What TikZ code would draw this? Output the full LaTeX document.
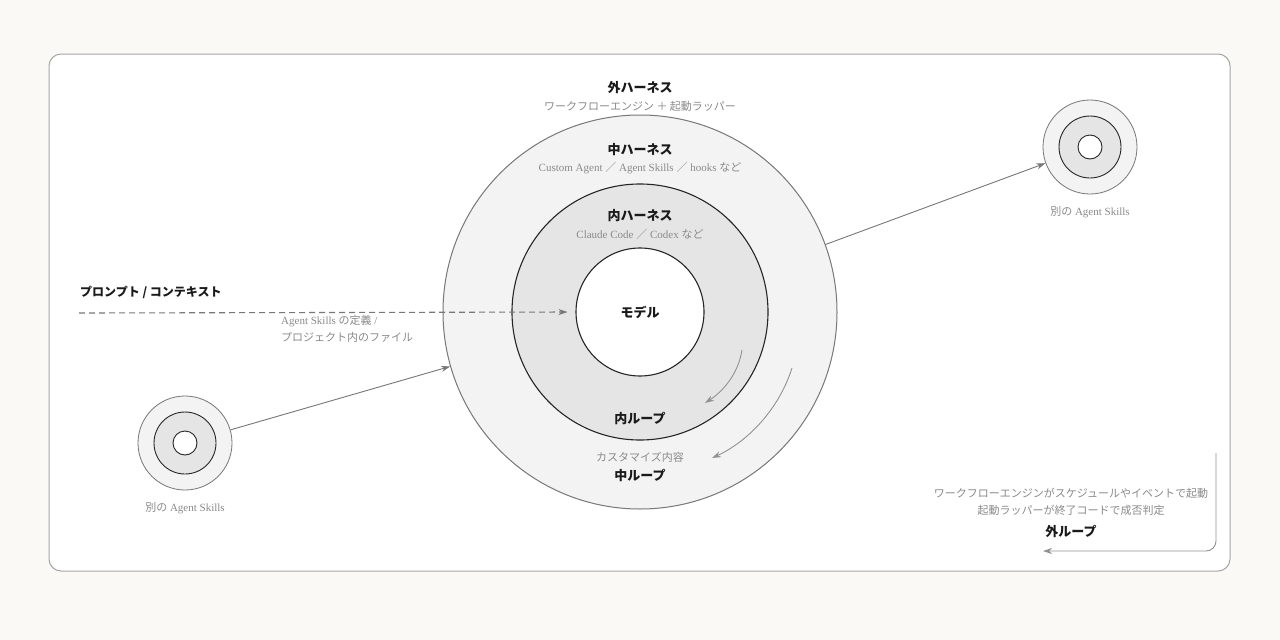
\documentclass[tikz,border=0pt]{standalone}
\usepackage{fontspec}
\setmainfont{Liberation Serif}
\newfontfamily\jp{Noto Sans CJK JP}
\usetikzlibrary{arrows.meta}
\definecolor{bgc}{HTML}{FAF9F5}
\definecolor{ringA}{HTML}{F3F3F3}
\definecolor{ringB}{HTML}{E5E5E5}
\definecolor{txtg}{HTML}{8A8A8A}
\definecolor{txtd}{HTML}{1A1A1A}
\definecolor{lineg}{HTML}{777777}
\tikzset{
  ttl/.style={font=\fontsize{13}{15}\selectfont\jp\bfseries, text=txtd, inner sep=0pt},
  sub/.style={font=\fontsize{11}{13}\selectfont, text=txtg, inner sep=0pt},
  arr/.style={draw=lineg, line width=0.9pt, -{Stealth[length=9pt,width=6pt]}},
  loop/.style={draw=lineg!80, line width=0.9pt, -{Stealth[length=9pt,width=6pt]}},
}
\begin{document}
\begin{tikzpicture}[x=1pt,y=-1pt]
\fill[bgc] (0,0) rectangle (1280,640);
\useasboundingbox (0,0) rectangle (1280,640);
\draw[draw=black!35, line width=1pt, fill=white, rounded corners=12pt] (49,54) rectangle (1230,571);
% main rings
\node[circle, minimum size=394pt, draw=lineg, line width=1pt, fill=ringA, inner sep=0pt] (outer) at (640,312) {};
\node[circle, minimum size=256pt, draw=black!85, line width=1.1pt, fill=ringB, inner sep=0pt] (mid) at (640,312) {};
\node[circle, minimum size=128pt, draw=black!85, line width=1.1pt, fill=white, inner sep=0pt] (model) at (640,312) {};
\node[ttl] (modeltxt) at (640,312) {モデル};
% labels
\node[ttl] (oh) at (640,88) {外ハーネス};
\node[sub] (ohs) at (640,106) {\jp ワークフローエンジン ＋ 起動ラッパー};
\node[ttl] (mh) at (640,150) {中ハーネス};
\node[sub] (mhs) at (640,168) {Custom Agent {\jp ／} Agent Skills {\jp ／} hooks {\jp など}};
\node[ttl] (ih) at (640,216) {内ハーネス};
\node[sub] (ihs) at (640,234) {Claude Code {\jp ／} Codex {\jp など}};
% small rings
\node[circle, minimum size=94pt, draw=lineg, line width=0.8pt, fill=ringA, inner sep=0pt] (rA) at (1090,147) {};
\node[circle, minimum size=62pt, draw=black!85, line width=0.9pt, fill=ringB, inner sep=0pt] (rB) at (1090,147) {};
\node[circle, minimum size=24pt, draw=black!85, line width=0.9pt, fill=white, inner sep=0pt] (rC) at (1090,147) {};
\node[sub] (rlab) at (1090,212) {{\jp 別の} Agent Skills};
\node[circle, minimum size=94pt, draw=lineg, line width=0.8pt, fill=ringA, inner sep=0pt] (lA) at (185,443) {};
\node[circle, minimum size=62pt, draw=black!85, line width=0.9pt, fill=ringB, inner sep=0pt] (lB) at (185,443) {};
\node[circle, minimum size=24pt, draw=black!85, line width=0.9pt, fill=white, inner sep=0pt] (lC) at (185,443) {};
\node[sub] (llab) at (185,508) {{\jp 別の} Agent Skills};
% connectors
\draw[arr] (lA) -- (outer.{196});
\draw[arr] (outer.{20}) -- (rA.{200});
% prompt
\node[ttl, anchor=west, font=\fontsize{12}{14}\selectfont\jp\bfseries] (prompt) at (80,292) {プロンプト / コンテキスト};
\coordinate (pstart) at (79,313);
\draw[draw=lineg, line width=1.1pt, dash pattern=on 6pt off 4pt, shorten >=8pt, -{Stealth[length=9pt,width=6pt]}] (pstart) -- (model.west);
\node[sub, anchor=west] (pl1) at (281,321) {Agent Skills {\jp の定義} /};
\node[sub, anchor=west] (pl2) at (281,337) {\jp プロジェクト内のファイル};
% loops
\node[ttl] (il) at (640,418) {内ループ};
\node[sub] (cust) at (640,457) {\jp カスタマイズ内容};
\node[ttl] (ml) at (640,475) {中ループ};
\coordinate (ia) at (742,350);
\coordinate (ib) at (705,403);
\draw[loop] (ia) .. controls (738,375) and (722,392) .. (ib);
\coordinate (ma) at (792,368);
\coordinate (mb) at (712,458);
\draw[loop] (ma) .. controls (778,412) and (745,443) .. (mb);
% outer loop
\coordinate (oa) at (1216,453);
\coordinate (ob) at (1043,551);
\draw[loop, rounded corners=10pt] (oa) -- (1216,551) -- (ob);
\node[sub] (ol1) at (1071,493) {\jp ワークフローエンジンがスケジュールやイベントで起動};
\node[sub] (ol2) at (1071,510) {\jp 起動ラッパーが終了コードで成否判定};
\node[ttl] (ol) at (1071,531) {外ループ};
\end{tikzpicture}
\end{document}
